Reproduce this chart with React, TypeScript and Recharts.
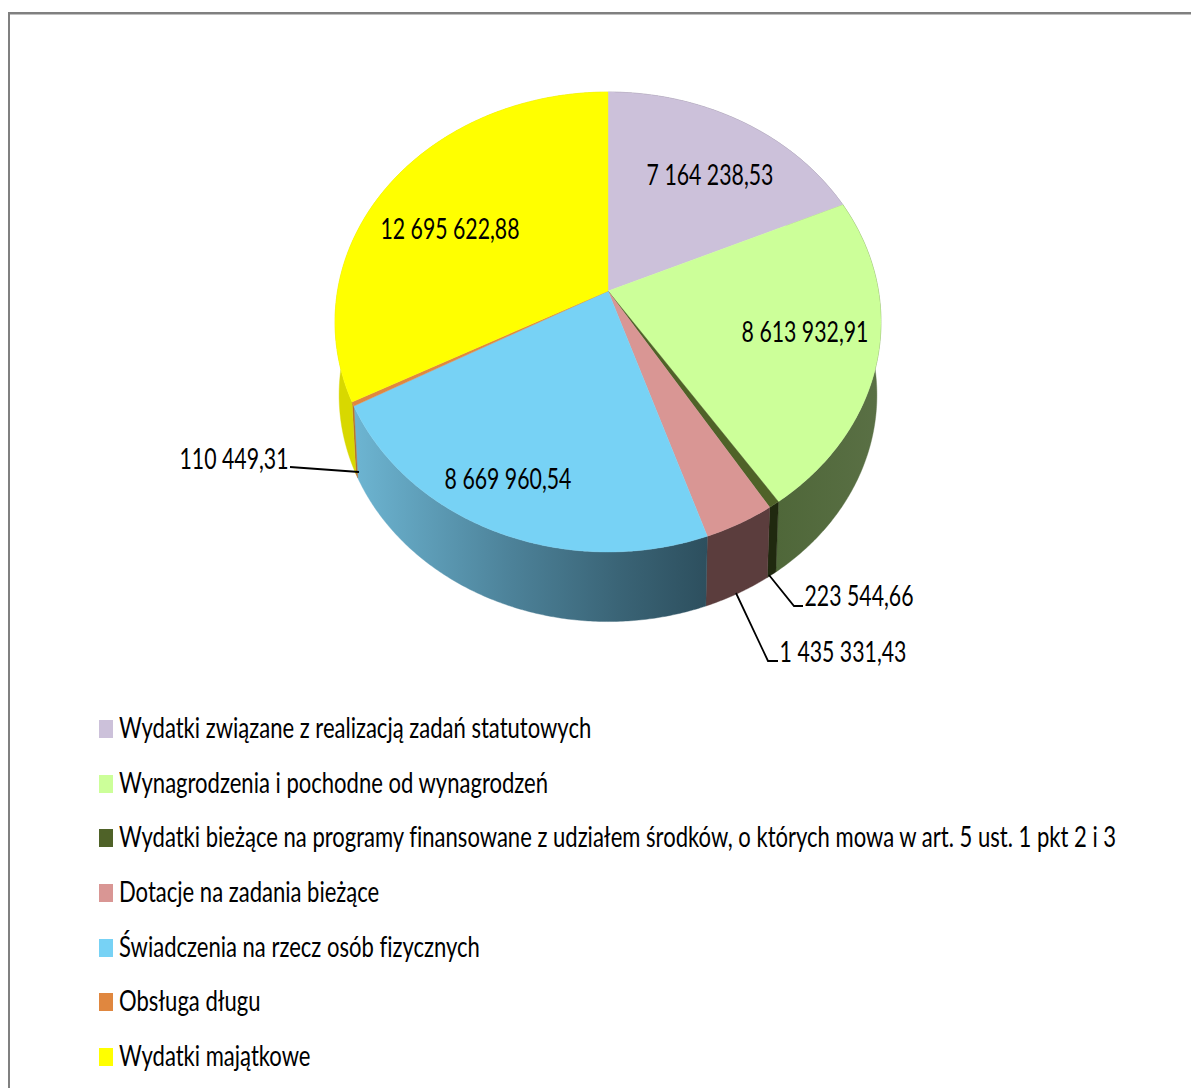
import { Legend, Pie, PieChart } from "recharts";

const categories = [
  "Wydatki związane z realizacją zadań statutowych",
  "Wynagrodzenia i pochodne od wynagrodzeń",
  "Wydatki bieżące na programy finansowane z udziałem środków, o których mowa w art. 5 ust. 1 pkt 2 i 3",
  "Dotacje na zadania bieżące",
  "Świadczenia na rzecz osób fizycznych",
  "Obsługa długu",
  "Wydatki majątkowe"
];
const amounts = [7164238.53, 8613932.91, 223544.66, 1435331.43, 8669960.54, 110449.31, 12695622.88];
const topColors = ["#CCC1DA", "#CCFF99", "#4F6228", "#D99694", "#77D2F5", "#E0873F", "#FFFF00"];
const wallColors = ["#7F7888", "url(#wallGreen)", "#20290F", "#5B3D3D", "url(#wallBlue)", "#B5702F", "#D8D800"];

const rows = categories.map((name, i) => ({
  name,
  value: amounts[i],
  fill: topColors[i],
  wall: wallColors[i]
}));

// label spots: text centre, baseline, optional leader line
const labelSpots = [
  { x: 710, y: 185 },
  { x: 805, y: 342 },
  { x: 859, y: 606, leader: "769,575 794,606 803,606" },
  { x: 843, y: 662, leader: "736,593 768,661 778,661" },
  { x: 508, y: 489 },
  { x: 234, y: 469, leader: "290,467 359,472" },
  { x: 450, y: 239 }
];

// no condensed face is installed, so Lato gets squeezed sideways
const FONT = 'Lato, sans-serif';
const FONT_SIZE = 28;
const LABEL_SQUEEZE = 0.76;
const LEGEND_SQUEEZE = 0.787;

// perspective of the tilted disc, fitted to the outline in the picture
const PERSPECTIVE = 0.1348;
const SQUASH = 225.8 / 270.5;
const WALL_SHRINK = 0.985;
const WALL_DROP = 73.5;

function rimPoint(cx: number, cy: number, r: number, deg: number, lower = false) {
  const rad = (deg * Math.PI) / 180;
  const dx = Math.cos(rad);
  const dy = -Math.sin(rad);
  const k = 1 - PERSPECTIVE * dy;
  const px = (r * dx) / k;
  const py = (r * SQUASH * dy) / k;
  if (lower) return [cx + px * WALL_SHRINK, cy + py * WALL_SHRINK + WALL_DROP];
  return [cx + px, cy + py];
}

function arcPoints(p: any, lower = false) {
  const steps = Math.max(2, Math.ceil(Math.abs(p.endAngle - p.startAngle) * 2));
  const pts = [];
  for (let i = 0; i <= steps; i++) {
    const deg = p.startAngle + ((p.endAngle - p.startAngle) * i) / steps;
    pts.push(rimPoint(p.cx, p.cy, p.outerRadius, deg, lower));
  }
  return pts;
}

function toPath(pts: number[][]) {
  return "M" + pts.map((q) => q[0].toFixed(2) + "," + q[1].toFixed(2)).join("L") + "Z";
}

function TopSlice(p: any) {
  return <path d={toPath([[p.cx, p.cy], ...arcPoints(p)])} fill={p.fill} stroke={p.fill} strokeWidth={0.4} />;
}

function WallSlice(p: any) {
  const d = toPath([...arcPoints(p), ...arcPoints(p, true).reverse()]);
  return <path d={d} fill={p.wall} stroke={p.wall} strokeWidth={0.4} />;
}

function formatAmount(v: number) {
  const [whole, cents] = v.toFixed(2).split(".");
  return whole.replace(/\B(?=(\d{3})+$)/g, " ") + "," + cents;
}

function ValueLabel(p: any) {
  const spot = labelSpots[p.index];
  return (
    <g>
      {spot.leader && <polyline points={spot.leader} fill="none" stroke="#000" strokeWidth={1.8} />}
      <text
        transform={`translate(${spot.x} ${spot.y}) scale(${LABEL_SQUEEZE} 1)`}
        textAnchor="middle"
        fontFamily={FONT}
        fontSize={FONT_SIZE}
        fill="#000"
      >
        {formatAmount(rows[p.index].value)}
      </text>
    </g>
  );
}

function LegendList({ payload }: any) {
  // the wall pie reports its slices too, keep each name once
  const items = (payload || []).filter(
    (item: any, i: number, all: any[]) => all.findIndex((o) => o.value === item.value) === i
  );
  return (
    <div>
      {items.map((item: any) => (
        <div key={item.value} style={{ display: "flex", alignItems: "center", height: 54.6, whiteSpace: "nowrap" }}>
          <span style={{ width: 14, height: 18, background: item.color, marginRight: 6, flex: "none" }} />
          <span
            style={{
              fontFamily: FONT,
              fontSize: FONT_SIZE,
              color: "#000",
              display: "inline-block",
              position: "relative",
              top: -2,
              fontVariantLigatures: "none",
              transform: `scaleX(${LEGEND_SQUEEZE})`,
              transformOrigin: "left center"
            }}
          >
            {item.value}
          </span>
        </div>
      ))}
    </div>
  );
}

export default function App() {
  return (
    <div style={{ position: "absolute", left: 0, top: 0, width: 1191, height: 1088, overflow: "hidden", background: "#fff" }}>
      <div style={{ position: "absolute", left: 8, top: 12, right: 0, height: 2, background: "#808080" }} />
      <div style={{ position: "absolute", left: 10, top: 14, right: 0, height: 1, background: "#c0c0c0" }} />
      <div style={{ position: "absolute", left: 8, top: 12, bottom: 0, width: 2, background: "#808080" }} />
      <PieChart width={1191} height={1088} margin={{ top: 0, right: 0, bottom: 0, left: 0 }} style={{ position: "absolute", left: 0, top: 0 }}>
        <defs>
          <linearGradient id="wallBlue" x1="0" x2="1" y1="0" y2="0">
            <stop offset="0%" stopColor="#6DB5D2" />
            <stop offset="45%" stopColor="#4C8198" />
            <stop offset="75%" stopColor="#3A6476" />
            <stop offset="100%" stopColor="#2D4F5E" />
          </linearGradient>
          <linearGradient id="wallGreen" x1="0" x2="1" y1="0" y2="0">
            <stop offset="0%" stopColor="#4F6739" />
            <stop offset="100%" stopColor="#5A7045" />
          </linearGradient>
        </defs>
        <Pie
          data={rows}
          dataKey="value"
          nameKey="name"
          cx={608}
          cy={291}
          outerRadius={270.5}
          startAngle={90}
          endAngle={-270}
          legendType="none"
          shape={WallSlice}
          stroke="none"
          isAnimationActive={false}
        />
        <Pie
          data={rows}
          dataKey="value"
          nameKey="name"
          cx={608}
          cy={291}
          outerRadius={270.5}
          startAngle={90}
          endAngle={-270}
          shape={TopSlice}
          stroke="none"
          label={ValueLabel}
          labelLine={false}
          isAnimationActive={false}
        />
        <Legend
          layout="vertical"
          content={LegendList}
          itemSorter={null}
          wrapperStyle={{ position: "absolute", left: 99, top: 702, width: 1080, height: 383, margin: 0 }}
        />
      </PieChart>
    </div>
  );
}
